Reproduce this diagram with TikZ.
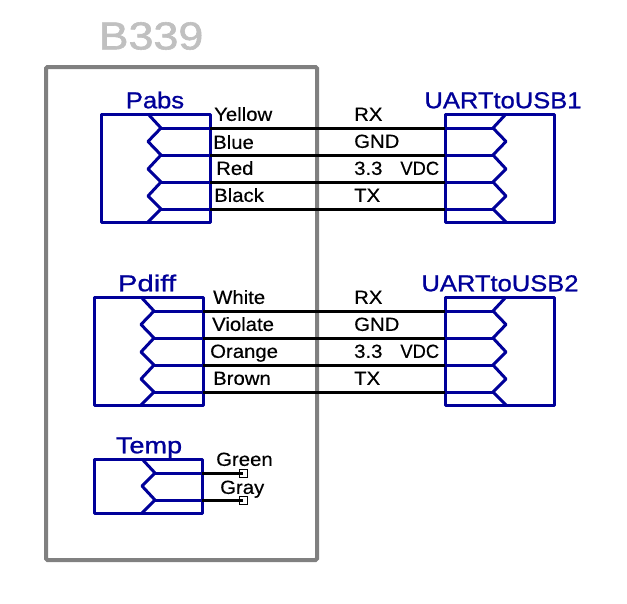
\documentclass[tikz,border=0pt]{standalone}
\usepackage{fontspec}
\setmainfont{Liberation Sans}
\newfontfamily\labfont[FakeStretch=1.07,FakeBold=0.4]{Liberation Sans}
\newfontfamily\titlefont[FakeStretch=1.11,FakeBold=1.0]{Liberation Sans}
\newfontfamily\roomfont[FakeStretch=1.15,FakeBold=1.5]{Liberation Sans}
\definecolor{sch}{RGB}{0,0,153}
\definecolor{room}{RGB}{128,128,128}
\definecolor{roomtxt}{RGB}{192,192,192}
\tikzset{
  partbox/.style={draw=sch,line width=3pt,line join=round},
  pinline/.style={draw=sch,line width=3pt,line join=round},
  wire/.style={draw=black,line width=3pt},
  lab/.style={font=\labfont\fontsize{19}{19}\selectfont,inner sep=0pt,text=black,anchor=west,text height=13.7pt,text depth=0pt},
  title/.style={font=\titlefont\fontsize{23}{23}\selectfont,inner sep=0pt,text=sch,text height=16.5pt,text depth=0pt},
  term/.style={draw=black,line width=1pt,minimum size=8pt,inner sep=0pt},
}
\newcommand{\connL}[5]{% name,xleft,xright,ytop,xzig : 4 pins, mating to the right
  \draw[partbox] (#2,#4) rectangle (#3,#4+108);
  \draw[pinline] (#5,#4) -- (#5+13,#4+14) -- (#5,#4+27.5) -- (#5+13,#4+41) -- (#5,#4+55) -- (#5+13,#4+68) -- (#5,#4+82) -- (#5+13,#4+95) -- (#5,#4+108);
  \foreach \i/\dy in {1/14,2/41,3/68,4/95}{
    \coordinate (#1\i) at (#3,#4+\dy);
    \draw[pinline] (#5+13,#4+\dy) -- (#1\i);
  }
}
\newcommand{\connR}[5]{% name,xleft,xright,ytop,xzig
  \draw[partbox] (#2,#4) rectangle (#3,#4+108);
  \draw[pinline] (#5,#4) -- (#5-13,#4+14) -- (#5,#4+27.5) -- (#5-13,#4+41) -- (#5,#4+55) -- (#5-13,#4+68) -- (#5,#4+82) -- (#5-13,#4+95) -- (#5,#4+108);
  \foreach \i/\dy in {1/14,2/41,3/68,4/95}{
    \coordinate (#1\i) at (#2,#4+\dy);
    \draw[pinline] (#5-13,#4+\dy) -- (#1\i);
  }
}
\begin{document}
\begin{tikzpicture}[x=1pt,y=-1pt]
\useasboundingbox (0,0) rectangle (627,603);
\fill[white] (0,0) rectangle (627,603);
% room
\draw[draw=room,line width=4pt,rounded corners=1.5pt] (46,67) rectangle (317,560);
\node[font=\roomfont\fontsize{39}{39}\selectfont,text=roomtxt,inner sep=0pt] (roomlabel) at (151,36) {B339};
% parts
\connL{pa}{101}{210}{114}{148}
\connL{pd}{94}{203}{297}{141}
\connR{ua}{445}{554}{114}{506}
\connR{ub}{445}{554}{297}{506}
% Temp
\draw[partbox] (94,459) rectangle (202,513);
\draw[pinline] (142,459) -- (155,473) -- (142,486) -- (155,500) -- (142,513);
\coordinate (t1) at (202,473);
\coordinate (t2) at (202,500);
\draw[pinline] (155,473) -- (t1);
\draw[pinline] (155,500) -- (t2);
% wires
\foreach \i in {1,2,3,4}{
  \draw[wire] (pa\i) -- (ua\i);
  \draw[wire] (pd\i) -- (ub\i);
}
\node[term] (g1) at (243,473) {};
\node[term] (g2) at (243,500) {};
\draw[wire] (t1) -- (g1.center);
\draw[wire] (t2) -- (g2.center);
% titles
\node[title] (pabs) at (155,100) {Pabs};
\node[title] (pdiff) at (147,283) {\scalebox{1.15}[1]{Pdiff}};
\node[title] (temp) at (149,445) {\scalebox{1.06}[1]{Temp}};
\node[title] (u1) at (503,100) {UARTtoUSB1};
\node[title] (u2) at (500,283) {UARTtoUSB2};
% left labels
\node[lab] (l1) at (214,114) {Yellow};
\node[lab] (l2) at (213,142) {Blue};
\node[lab] (l3) at (216,168) {Red};
\node[lab] (l4) at (214,195) {Black};
\node[lab] (l5) at (213,297) {White};
\node[lab] (l6) at (212,324) {Violate};
\node[lab] (l7) at (210,351) {Orange};
\node[lab] (l8) at (213,378) {Brown};
\node[lab] (l9) at (216,459) {Green};
\node[lab] (l10) at (220,487) {Gray};
% right labels
\foreach \n/\yy in {a/114,b/297}{
  \node[lab] (rx\n) at (354,\yy) {RX};
  \node[lab] (gnd\n) at (354,\yy+27) {GND};
  \node[lab] (vdc\n) at (354,\yy+54) {3.3\hspace{18pt}\scalebox{0.9}[1]{VDC}};
  \node[lab] (tx\n) at (354,\yy+81) {TX};
}
\end{tikzpicture}
\end{document}
